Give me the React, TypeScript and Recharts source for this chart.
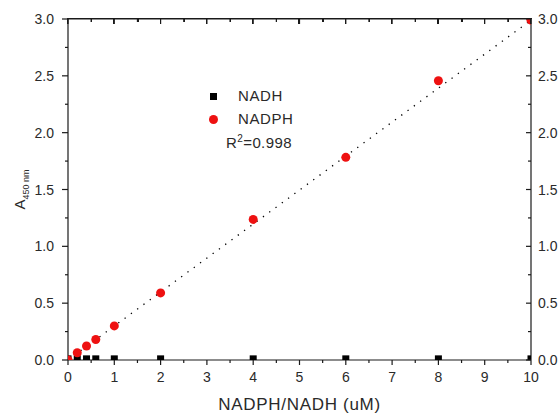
import React from 'react';
import { ScatterChart, Scatter, XAxis, YAxis } from 'recharts';

const X_VALUES = [0, 0.2, 0.4, 0.6, 1, 2, 4, 6, 8, 10];
const NADH_VALUES = [0.01, 0.01, 0.01, 0.01, 0.01, 0.01, 0.01, 0.01, 0.01, 0.01];
const NADPH_VALUES = [0.0, 0.064, 0.123, 0.18, 0.3, 0.59, 1.237, 1.783, 2.457, 2.99];
const FIT_X = [0, 10];
const FIT_Y = [0, 2.99];
const X_TICKS = [0, 0.5, 1, 1.5, 2, 2.5, 3, 3.5, 4, 4.5, 5, 5.5, 6, 6.5, 7, 7.5, 8, 8.5, 9, 9.5, 10];
const Y_TICKS = [0, 0.25, 0.5, 0.75, 1, 1.25, 1.5, 1.75, 2, 2.25, 2.5, 2.75, 3];
const X_MIN = 0;
const X_MAX = 10;
const Y_MIN = 0;
const Y_MAX = 3;
const SERIES_NAMES = ['NADH', 'NADPH'];
const R2_TEXT = '0.998';

const nadhData = X_VALUES.map((x, i) => ({ x, y: NADH_VALUES[i] }));
const nadphData = X_VALUES.map((x, i) => ({ x, y: NADPH_VALUES[i] }));
const fitData = FIT_X.map((x, i) => ({ x, y: FIT_Y[i] }));

const FONT = '"Liberation Sans", Arial, sans-serif';
const AXIS = '#1a1a1a';
const TXT = '#2a2a2a';
const RED = '#ee1111';

// layout (styles only)
const PLOT_LEFT = 68;
const PLOT_TOP = 19;
const PLOT_W = 463;
const MAJOR_STEP_PX = PLOT_W / 10;

const isMajor = (v: number, step: number) => Math.abs(v / step - Math.round(v / step)) < 1e-6;

const BottomTick = (p: any) => {
  const { x, y, payload } = p;
  const v = payload.value;
  const major = isMajor(v, 1);
  return (
    <g>
      <line x1={x} x2={x} y1={y} y2={y + (major ? 5 : 3)} stroke={AXIS} strokeWidth={1.2} />
      {major && (
        <text x={x} y={y + 22} textAnchor="middle" fontSize={14} fontFamily={FONT} fill={TXT}>
          {v}
        </text>
      )}
    </g>
  );
};

const TopTick = (p: any) => {
  const { x, y, payload } = p;
  const v = payload.value;
  const major = isMajor(v, 1);
  return <line x1={x} x2={x} y1={y} y2={y + (major ? 5 : 3)} stroke={AXIS} strokeWidth={1.2} />;
};

const LeftTick = (p: any) => {
  const { x, y, payload } = p;
  const v = payload.value;
  const major = isMajor(v, 0.5);
  return (
    <g>
      <line x1={x - (major ? 6 : 3)} x2={x} y1={y} y2={y} stroke={AXIS} strokeWidth={1.2} />
      {major && (
        <text x={x - 14} y={y + 5} textAnchor="end" fontSize={14} fontFamily={FONT} fill={TXT}>
          {v.toFixed(1)}
        </text>
      )}
    </g>
  );
};

const RightTick = (p: any) => {
  const { x, y, payload } = p;
  const v = payload.value;
  const major = isMajor(v, 0.5);
  return (
    <g>
      <line x1={x - (major ? 5 : 3)} x2={x} y1={y} y2={y} stroke={AXIS} strokeWidth={1.2} />
      {major && (
        <text x={x + 7} y={y + 5} textAnchor="start" fontSize={14} fontFamily={FONT} fill={TXT}>
          {v.toFixed(1)}
        </text>
      )}
    </g>
  );
};

const SquareShape = (p: any) => {
  const { cx, cy } = p;
  if (cx == null || cy == null) return <g />;
  return <rect x={cx - 3.5} y={cy - 3.5} width={7} height={7} fill="#000" />;
};

const CircleShape = (p: any) => {
  const { cx, cy } = p;
  if (cx == null || cy == null) return <g />;
  return <circle cx={cx} cy={cy} r={4.5} fill={RED} />;
};

const NoShape = () => <g />;

const TopFrame = () => (
  <>
    <div
      style={{
        position: 'absolute',
        left: PLOT_LEFT - 0.6,
        top: PLOT_TOP - 0.6,
        width: PLOT_W + 1.2,
        height: 0,
        borderTop: `1.2px solid ${AXIS}`,
      }}
    />
    <div
      style={{
        position: 'absolute',
        left: PLOT_LEFT - 0.6,
        top: PLOT_TOP,
        width: PLOT_W + 1.2,
        height: 5,
        background: `repeating-linear-gradient(to right, ${AXIS} 0px, ${AXIS} 1.2px, transparent 1.2px, transparent ${MAJOR_STEP_PX}px)`,
      }}
    />
    <div
      style={{
        position: 'absolute',
        left: PLOT_LEFT - 0.6 + MAJOR_STEP_PX / 2,
        top: PLOT_TOP,
        width: PLOT_W - MAJOR_STEP_PX / 2,
        height: 3,
        background: `repeating-linear-gradient(to right, ${AXIS} 0px, ${AXIS} 1.2px, transparent 1.2px, transparent ${MAJOR_STEP_PX}px)`,
      }}
    />
  </>
);

const LegendBox = () => (
  <div
    style={{
      position: 'absolute',
      left: 203,
      top: 83,
      width: 110,
      height: 70,
      fontFamily: FONT,
      color: TXT,
      fontSize: 15,
      pointerEvents: 'none',
    }}
  >
    <div style={{ position: 'absolute', left: 6.5, top: 9.5, width: 7, height: 7, background: '#000' }} />
    <div style={{ position: 'absolute', left: 35, top: 4, lineHeight: '18px', letterSpacing: 0.6 }}>{SERIES_NAMES[0]}</div>
    <div style={{ position: 'absolute', left: 5.5, top: 31.5, width: 9, height: 9, borderRadius: '50%', background: RED }} />
    <div style={{ position: 'absolute', left: 35, top: 27, lineHeight: '18px', letterSpacing: 0.6 }}>{SERIES_NAMES[1]}</div>
    <div style={{ position: 'absolute', left: 23, top: 51, lineHeight: '18px', letterSpacing: 0.4 }}>
      R<sup style={{ fontSize: 10, verticalAlign: 'top', lineHeight: '10px' }}>2</sup>={R2_TEXT}
    </div>
  </div>
);

const YLabel = (p: any) => {
  const vb = p.viewBox || {};
  const cx = 25;
  const cy = (vb.y ?? 19) + (vb.height ?? 341) / 2;
  return (
    <text transform={`rotate(-90, ${cx}, ${cy})`} x={cx} y={cy} textAnchor="middle" fontFamily={FONT} fill={TXT}>
      <tspan fontSize={15}>A</tspan>
      <tspan fontSize={9} dy={4}>450 nm</tspan>
    </text>
  );
};

const XLabel = (p: any) => {
  const vb = p.viewBox || {};
  const cx = (vb.x ?? 68) + (vb.width ?? 463) / 2;
  return (
    <text x={cx} y={410} textAnchor="middle" fontSize={17} letterSpacing={0.7} fontFamily={FONT} fill={TXT}>
      NADPH/NADH (uM)
    </text>
  );
};

export default function App() {
  return (
    <div style={{ position: 'absolute', left: 0, top: 0, width: 558, height: 415, background: '#fff' }}>
      <ScatterChart width={558} height={415} margin={{ top: 0, right: 0, bottom: 0, left: 0 }}>
        <XAxis
          xAxisId="t"
          dataKey="x"
          type="number"
          domain={[X_MIN, X_MAX]}
          ticks={X_TICKS}
          interval={0}
          orientation="top"
          height={19}
          tickSize={0}
          tickMargin={0}
          tickLine={false}
          axisLine={{ stroke: AXIS, strokeWidth: 1.2 }}
          tick={<TopTick />}
          allowDataOverflow
        />
        <XAxis
          xAxisId="b"
          dataKey="x"
          type="number"
          domain={[X_MIN, X_MAX]}
          ticks={X_TICKS}
          interval={0}
          orientation="bottom"
          height={55}
          tickSize={0}
          tickMargin={0}
          tickLine={false}
          axisLine={{ stroke: AXIS, strokeWidth: 1.2 }}
          tick={<BottomTick />}
          label={<XLabel />}
          allowDataOverflow
        />
        <YAxis
          yAxisId="l"
          dataKey="y"
          type="number"
          domain={[Y_MIN, Y_MAX]}
          ticks={Y_TICKS}
          interval={0}
          orientation="left"
          width={68}
          tickSize={0}
          tickMargin={0}
          tickLine={false}
          axisLine={{ stroke: AXIS, strokeWidth: 1.2 }}
          tick={<LeftTick />}
          label={<YLabel />}
          allowDataOverflow
        />
        <YAxis
          yAxisId="r"
          dataKey="y"
          type="number"
          domain={[Y_MIN, Y_MAX]}
          ticks={Y_TICKS}
          interval={0}
          orientation="right"
          width={27}
          tickSize={0}
          tickMargin={0}
          tickLine={false}
          axisLine={{ stroke: AXIS, strokeWidth: 1.2 }}
          tick={<RightTick />}
          allowDataOverflow
        />
        <Scatter
          name="fit"
          data={fitData}
          xAxisId="t"
          yAxisId="r"
          line={{ stroke: '#000', strokeWidth: 1.3, strokeDasharray: '1.3 6.5' }}
          shape={<NoShape />}
          legendType="none"
          isAnimationActive={false}
        />
        <Scatter name={SERIES_NAMES[0]} data={nadhData} xAxisId="b" yAxisId="l" fill="#000" shape={<SquareShape />} isAnimationActive={false} />
        <Scatter name={SERIES_NAMES[1]} data={nadphData} xAxisId="b" yAxisId="l" fill={RED} shape={<CircleShape />} isAnimationActive={false} />
      </ScatterChart>
      <TopFrame />
      <LegendBox />
    </div>
  );
}
